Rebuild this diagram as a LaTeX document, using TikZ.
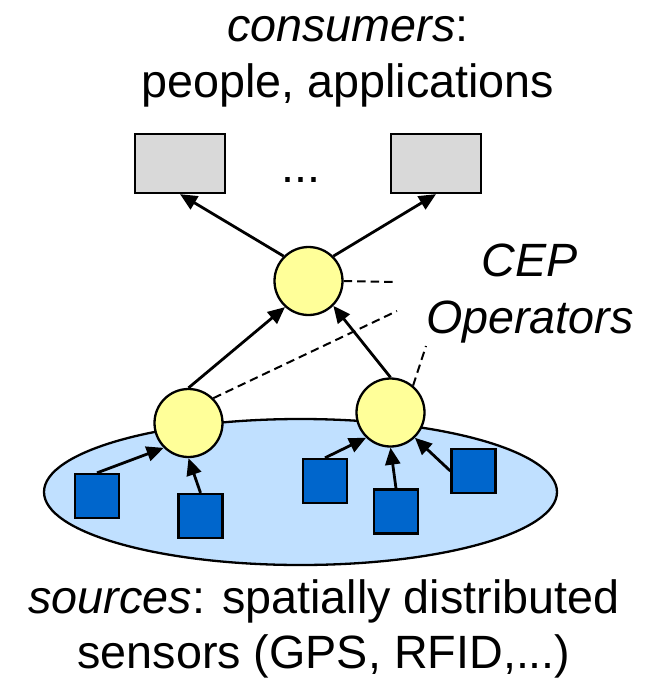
\documentclass[tikz,border=0pt]{standalone}
\usepackage{fontspec}
\setmainfont{Liberation Sans}
\usetikzlibrary{arrows.meta,shapes.geometric}
\definecolor{boxgray}{RGB}{217,217,217}
\definecolor{opyellow}{RGB}{255,255,153}
\definecolor{areablue}{RGB}{192,224,255}
\definecolor{sensorblue}{RGB}{0,102,204}
\begin{document}
\begin{tikzpicture}[x=1pt,y=-1pt,
  consumer/.style={draw=black, line width=2.3pt, fill=boxgray,
    minimum width=90pt, minimum height=59pt, inner sep=0pt},
  operator/.style={circle, draw=black, line width=2.3pt, fill=opyellow,
    minimum size=68pt, inner sep=0pt},
  sensor/.style={draw=black, line width=2.3pt, fill=sensorblue,
    minimum size=44pt, inner sep=0pt},
  area/.style={ellipse, draw=black, line width=2.3pt, fill=areablue,
    minimum width=513pt, minimum height=146pt, inner sep=0pt},
  flow/.style={line width=2.8pt, -{Triangle[length=17pt,width=15pt]}},
  link/.style={line width=2pt, dash pattern=on 8.5pt off 5pt},
  caption/.style={align=center, inner sep=0pt, anchor=base}]
\useasboundingbox (0,0) rectangle (657,681);

% region of the distributed sensors
\node[area] (field) at (300.5,492) {};

% consumers
\node[consumer] (c1) at (180,163.5) {};
\node[consumer] (c2) at (436,163.5) {};
\node[caption, font=\fontsize{46.7}{56}\selectfont] (dots) at (300.5,182) {...};

% CEP operators
\node[operator] (top) at (308.5,281) {};
\node[operator] (bl) at (188.5,423) {};
\node[operator] (br) at (390.5,412.5) {};

% sensors
\node[sensor] (s1) at (97,496) {};
\node[sensor] (s2) at (200.5,516) {};
\node[sensor] (s3) at (325,481) {};
\node[sensor] (s4) at (396,511.5) {};
\node[sensor] (s5) at (473.5,471) {};

% event flow
\draw[flow] (s1.north) -- (bl.225);
\draw[flow] (s2.north) -- (bl.south);
\draw[flow] (s3.north) -- (br.226);
\draw[flow] (s4.north) -- (br.south);
\draw[flow] (s5.west) -- (br.314);
\draw[flow] (bl.north) -- (top.228);
\draw[flow] (br.north) -- (top.315);
\draw[flow] (top.135) -- (c1.south);
\draw[flow] (top.45) -- (c2.south);

% leaders to the operator caption
\coordinate (d1) at (397,282);
\coordinate (d2) at (397,311);
\coordinate (d3) at (426,346);
\draw[link] (top.east) -- (d1);
\draw[link] (bl.45) -- (d2);
\draw[link] (br.50) -- (d3);

% captions (anchored at the baseline of their last line)
\node[caption, font=\fontsize{46.7}{56}\selectfont] (cons) at (348,97)
  {\textit{consumers}:\\people, applications};
\node[caption, font=\fontsize{46.7}{57}\selectfont] (ops) at (530,333)
  {\textit{CEP}\\\textit{Operators}};
\node[caption, font=\fontsize{46.7}{55}\selectfont] (srcs) at (324,668)
  {\textit{sources}: spatially distributed\\sensors (GPS, RFID,...)};
\end{tikzpicture}
\end{document}
